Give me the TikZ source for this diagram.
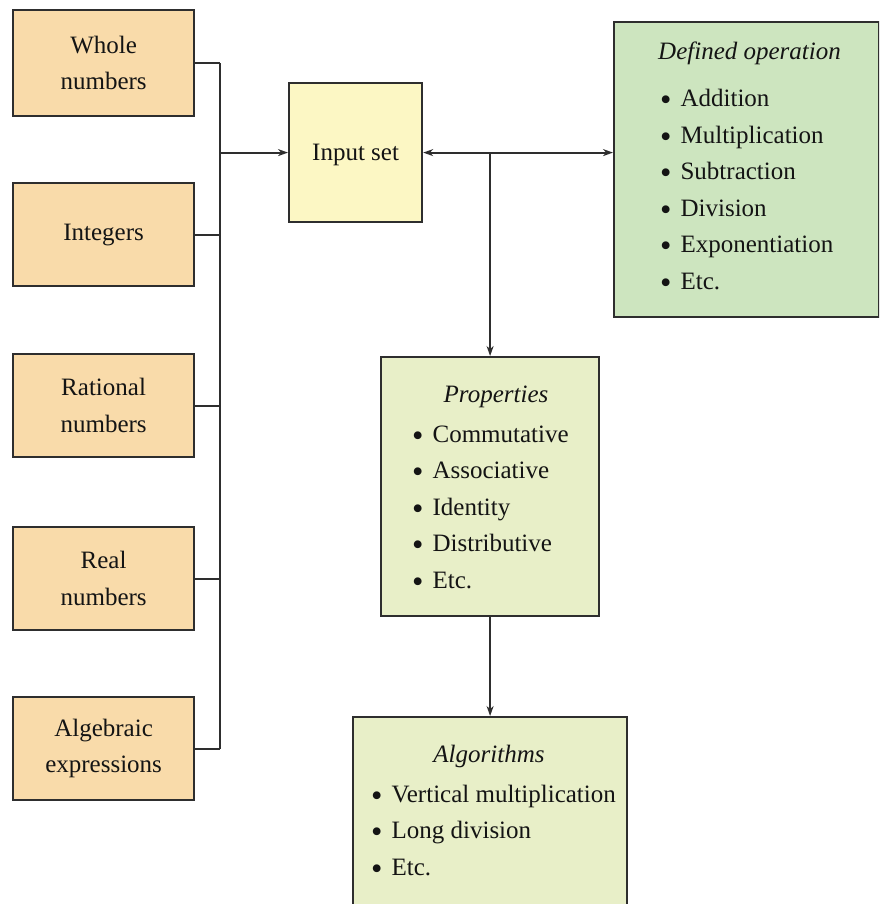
\documentclass[tikz,border=0pt]{standalone}
\usepackage{fontspec}
\setmainfont{Liberation Serif}
\usetikzlibrary{arrows.meta}
\definecolor{boxtan}{HTML}{F9DBAA}
\definecolor{boxyellow}{HTML}{FCF7C4}
\definecolor{boxgreen}{HTML}{CDE5BF}
\definecolor{boxlime}{HTML}{E8EFC8}
\definecolor{inkline}{HTML}{2E2E2E}
\newcommand\itembul{\raisebox{-4pt}{\scalebox{1.3}{\textbullet}}\hspace{9pt}}
\begin{document}
\begin{tikzpicture}[x=1pt,y=-1pt,
  font=\fontsize{25}{36.5}\selectfont,
  text=black!92,
  basebox/.style={draw=inkline, line width=2.2pt, rectangle, inner sep=0pt, anchor=north west},
  leftbox/.style={basebox, fill=boxtan, minimum width=181pt, minimum height=103pt, align=center},
  conn/.style={draw=inkline, line width=2pt},
  tip/.style={-{Stealth[length=10pt,width=7pt]}},
  listtext/.style={inner sep=0pt, anchor=base west},
  titletext/.style={inner sep=0pt, anchor=base, font=\fontsize{25}{36.5}\selectfont\itshape}
]
\useasboundingbox (0,0) rectangle (879,904);
\clip (0,0) rectangle (879,904);
\fill[white] (0,0) rectangle (879,904);

% left column
\node[leftbox, minimum height=106pt] (whole) at (12,9) {Whole\\numbers};
\node[leftbox] (integers) at (12,182) {Integers};
\node[leftbox] (rational) at (12,353) {Rational\\numbers};
\node[leftbox] (real) at (12,526) {Real\\numbers};
\node[leftbox] (alg) at (12,696) {Algebraic\\expressions};

% input set
\node[basebox, fill=boxyellow, minimum width=133pt, minimum height=139pt] (inp) at (288,82) {};
\node[inner sep=0pt] (inpT) at ([yshift=-2pt]inp.center) {Input set};

% defined operation
\node[basebox, fill=boxgreen, minimum width=265pt, minimum height=295pt] (defop) at (613,21) {};
\node[titletext, anchor=base west] (defopT) at (658,60) {Defined operation};
\node[listtext] (defopL) at (660,107) {\renewcommand\arraystretch{1}\begin{tabular}[t]{@{}l@{}}
\itembul Addition\\
\itembul Multiplication\\
\itembul Subtraction\\
\itembul Division\\
\itembul Exponentiation\\
\itembul Etc.
\end{tabular}};

% properties
\node[basebox, fill=boxlime, minimum width=218pt, minimum height=259pt] (props) at (380,356) {};
\node[titletext] (propsT) at (496,402) {Properties};
\node[listtext] (propsL) at (412,442) {\renewcommand\arraystretch{1}\begin{tabular}[t]{@{}l@{}}
\itembul Commutative\\
\itembul Associative\\
\itembul Identity\\
\itembul Distributive\\
\itembul Etc.
\end{tabular}};

% algorithms
\node[basebox, fill=boxlime, minimum width=274pt, minimum height=230pt] (algo) at (352,716) {};
\node[titletext] (algoT) at (489,762) {Algorithms};
\node[listtext] (algoL) at (371,802) {\renewcommand\arraystretch{1}\begin{tabular}[t]{@{}l@{}}
\itembul Vertical multiplication\\
\itembul Long division\\
\itembul Etc.
\end{tabular}};

% connectors
\coordinate (bus) at (220,0);
\foreach \n in {whole,integers,rational,real,alg}
  \draw[conn] (\n.east) -- (\n.east -| bus);
\draw[conn] (whole.east -| bus) -- (alg.east -| bus);
\draw[conn, tip] (inp.west -| bus) -- (inp.west);
\coordinate (opend) at (inp.east -| defop.west);
\draw[conn, {Stealth[length=10pt,width=7pt]}-{Stealth[length=10pt,width=7pt]}] (inp.east) -- (opend);
\coordinate (split) at (inp.east -| props.north);
\draw[conn, tip] (split) -- (props.north);
\draw[conn, tip] (props.south) -- (algo.north);
\end{tikzpicture}
\end{document}
